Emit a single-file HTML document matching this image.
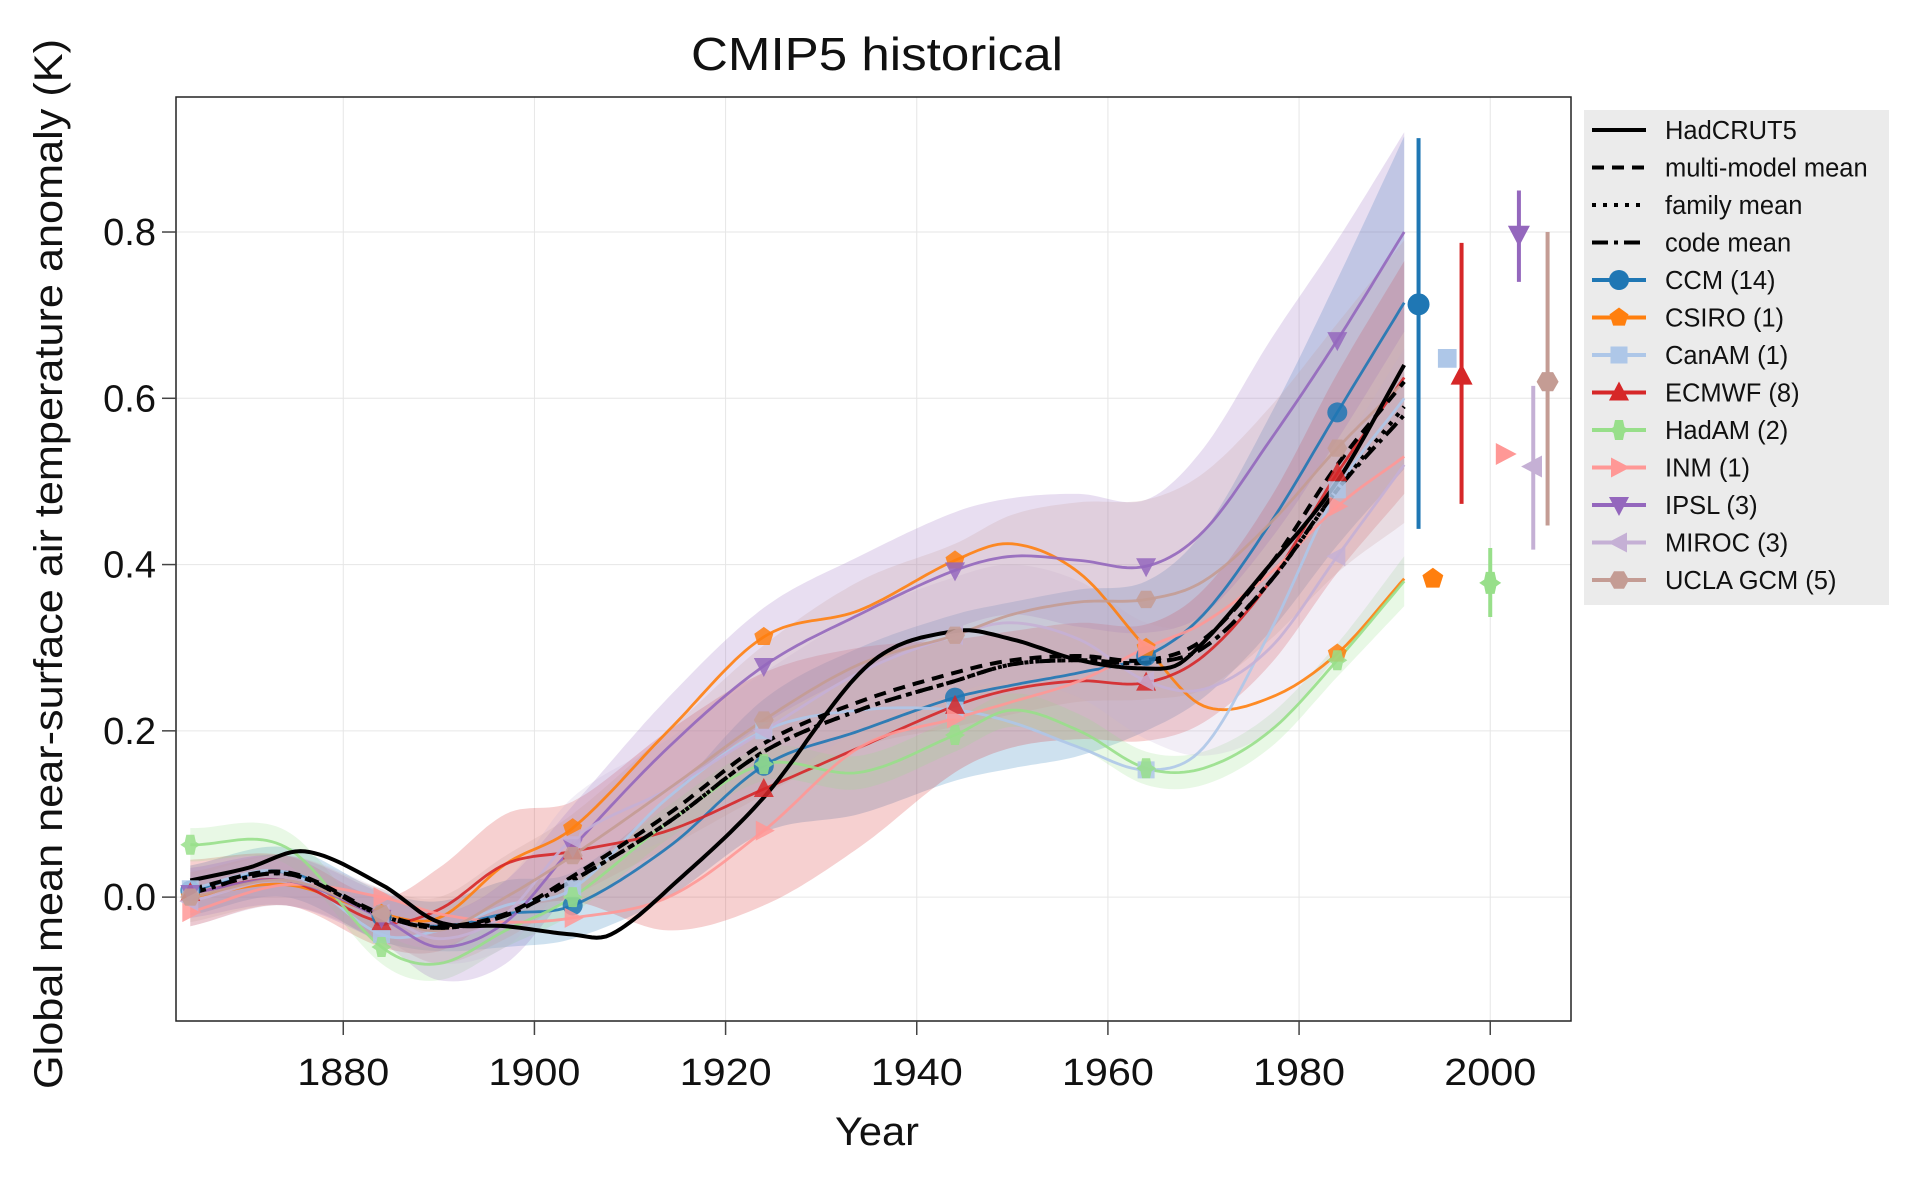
<!DOCTYPE html>
<html><head><meta charset="utf-8"><style>
html,body{margin:0;padding:0;background:#fff;}
svg{display:block;font-family:"Liberation Sans",sans-serif;}
</style></head><body>
<svg id="chart" width="1919" height="1181" viewBox="0 0 1919 1181" xmlns="http://www.w3.org/2000/svg">
<text x="877" y="70" font-size="46" text-anchor="middle" textLength="372" lengthAdjust="spacingAndGlyphs" fill="#111">CMIP5 historical</text>
<text transform="translate(62,564) rotate(-90)" font-size="40" text-anchor="middle" textLength="1050" lengthAdjust="spacingAndGlyphs" fill="#111">Global mean near-surface air temperature anomaly (K)</text>
<text x="877" y="1145" font-size="40" text-anchor="middle" textLength="84" lengthAdjust="spacingAndGlyphs" fill="#111">Year</text>
<g id="grid"></g>
<g id="bands"></g>
<g id="lines"></g>
<g id="marks"></g>
<g id="bars"></g>
<rect x="176" y="97" width="1395" height="924" fill="none" stroke="#222" stroke-width="1.5"/>
<g id="ticks"></g>
<g id="legend"></g>
</svg>
<script>
const xTicks=[1880,1900,1920,1940,1960,1980,2000];
const yTicks=[0.0,0.2,0.4,0.6,0.8];
const yTickLabels=["0.0","0.2","0.4","0.6","0.8"];
const years=[1864,1874,1884,1890,1897,1904,1914,1924,1934,1944,1950,1957,1964,1970,1977,1984,1991];
const hadcrutYears=[1864,1870,1876,1884,1890,1897,1904,1908,1915,1924,1935,1944,1950,1957,1964,1968,1977,1984,1991];
const hadcrut=[0.02,0.035,0.055,0.015,-0.03,-0.035,-0.045,-0.045,0.02,0.12,0.28,0.32,0.31,0.285,0.275,0.285,0.4,0.5,0.64];
const mmMean=[0.01,0.03,-0.02,-0.035,-0.02,0.025,0.1,0.185,0.235,0.27,0.285,0.29,0.285,0.31,0.4,0.52,0.62];
const famMean=[0.005,0.028,-0.022,-0.037,-0.022,0.02,0.09,0.175,0.225,0.26,0.28,0.285,0.282,0.3,0.38,0.49,0.59];
const codeMean=[0.005,0.028,-0.022,-0.037,-0.022,0.02,0.09,0.175,0.225,0.26,0.28,0.285,0.282,0.3,0.38,0.49,0.58];
const names=["CCM (14)","CSIRO (1)","CanAM (1)","ECMWF (8)","HadAM (2)","INM (1)","IPSL (3)","MIROC (3)","UCLA GCM (5)"];
const colors=["#1f77b4","#ff7f0e","#aec7e8","#d62728","#98df8a","#ff9896","#9467bd","#c5b0d5","#c49c94"];
const symbols=["circle","pentagon","square","triangle-up","cross","triangle-right","triangle-down","triangle-left","hexagon"];
const ccm=[0.008,0.03,-0.023,-0.035,-0.02,-0.01,0.06,0.158,0.2,0.24,0.255,0.27,0.29,0.34,0.45,0.583,0.715];
const csiro=[0.0,0.015,-0.02,-0.025,0.04,0.083,0.2,0.313,0.345,0.405,0.425,0.39,0.3,0.23,0.24,0.293,0.383];
const canam=[0.01,0.03,-0.045,-0.04,-0.01,0.01,0.12,0.2,0.225,0.225,0.21,0.18,0.153,0.18,0.32,0.49,0.6];
const ecmwf=[0.005,0.02,-0.03,-0.015,0.04,0.055,0.08,0.13,0.18,0.23,0.25,0.26,0.258,0.29,0.38,0.51,0.625];
const hadam=[0.063,0.06,-0.06,-0.08,-0.04,0.0,0.09,0.16,0.15,0.195,0.225,0.2,0.155,0.155,0.2,0.285,0.38];
const inm=[-0.018,0.015,0.0,-0.02,-0.03,-0.025,0.0,0.08,0.18,0.215,0.235,0.26,0.3,0.33,0.39,0.47,0.53];
const ipsl=[0.005,0.02,-0.025,-0.06,-0.03,0.06,0.18,0.278,0.34,0.393,0.41,0.405,0.398,0.44,0.55,0.67,0.8];
const miroc=[-0.005,0.02,-0.02,-0.05,-0.02,0.07,0.13,0.2,0.27,0.315,0.33,0.31,0.26,0.25,0.3,0.41,0.52];
const ucla=[0.0,0.02,-0.02,-0.04,0.0,0.05,0.13,0.213,0.28,0.315,0.34,0.355,0.358,0.38,0.45,0.54,0.62];
const seriesVals=[ccm,csiro,canam,ecmwf,hadam,inm,ipsl,miroc,ucla];
const spreadCcm=[0.03,0.03,0.03,0.03,0.04,0.04,0.06,0.08,0.1,0.1,0.1,0.1,0.09,0.1,0.13,0.16,0.2];
const spreadEcmwf=[0.04,0.03,0.03,0.05,0.06,0.06,0.12,0.14,0.12,0.08,0.07,0.07,0.07,0.08,0.1,0.12,0.14];
const spreadHadam=[0.02,0.02,0.02,0.02,0.02,0.02,0.02,0.02,0.02,0.02,0.02,0.02,0.02,0.02,0.02,0.02,0.03];
const spreadIpsl=[0.03,0.03,0.03,0.04,0.05,0.05,0.06,0.07,0.07,0.07,0.07,0.08,0.08,0.1,0.12,0.12,0.12];
const spreadMiroc=[0.03,0.03,0.03,0.03,0.04,0.05,0.06,0.07,0.07,0.07,0.07,0.07,0.07,0.08,0.1,0.12,0.14];
const spreadUcla=[0.03,0.03,0.03,0.04,0.05,0.05,0.07,0.09,0.1,0.11,0.12,0.12,0.12,0.13,0.14,0.15,0.17];
const spreads=[spreadCcm,null,null,spreadEcmwf,spreadHadam,null,spreadIpsl,spreadMiroc,spreadUcla];
const markerYears=[1864,1884,1904,1924,1944,1964,1984];
const endYears=[1992.5,1994,1995.5,1997,2000,2001.5,2003,2004.5,2006];
const endVals=[0.713,0.383,0.648,0.627,0.378,0.533,0.797,0.518,0.62];
const endLo=[0.443,null,null,0.473,0.337,null,0.74,0.418,0.447];
const endHi=[0.913,null,null,0.787,0.42,null,0.85,0.615,0.80];

const NS="http://www.w3.org/2000/svg";
const X0=176,X1=1571,Y0=97,Y1=1021,xMin=1862.5,xMax=2008.45,yMin=-0.149,yMax=0.9624;
function xs(v){return X0+(v-xMin)/(xMax-xMin)*(X1-X0);}
function ys(v){return Y1-(v-yMin)/(yMax-yMin)*(Y1-Y0);}
function mk(tag,attrs,parent){const e=document.createElementNS(NS,tag);for(const k in attrs)e.setAttribute(k,attrs[k]);parent.appendChild(e);return e;}
function interp(xa,ya,x){
  let i=0;while(i<xa.length-2&&x>xa[i+1])i++;
  const p0=ya[Math.max(i-1,0)],p1=ya[i],p2=ya[i+1],p3=ya[Math.min(i+2,ya.length-1)];
  const x0=xa[Math.max(i-1,0)],x1=xa[i],x2=xa[i+1],x3=xa[Math.min(i+2,xa.length-1)];
  const h=x2-x1,t=(x-x1)/h;
  const m1=(p2-p0)/(x2-x0)*h, m2=(p3-p1)/(x3-x1)*h;
  const t2=t*t,t3=t2*t;
  return (2*t3-3*t2+1)*p1+(t3-2*t2+t)*m1+(-2*t3+3*t2)*p2+(t3-t2)*m2;
}
function sample(xa,ya){const pts=[];for(let x=xa[0];x<=xa[xa.length-1]+1e-9;x+=0.5)pts.push([x,interp(xa,ya,x)]);return pts;}
function pathOf(pts){return pts.map((p,i)=>(i?"L":"M")+xs(p[0]).toFixed(1)+","+ys(p[1]).toFixed(1)).join("");}

const grid=document.getElementById('grid'),ticks=document.getElementById('ticks');
xTicks.forEach(t=>{
  const g=mk('line',{x1:xs(t),x2:xs(t),y1:Y0,y2:Y1,stroke:'#e6e6e6','stroke-width':1},grid);
  
  const tk=mk('line',{x1:xs(t),x2:xs(t),y1:Y1,y2:Y1+14,stroke:'#444','stroke-width':1.5},ticks);
  
  const tx=mk('text',{x:xs(t),y:Y1+64,'font-size':38,'text-anchor':'middle',fill:'#111',textLength:92,lengthAdjust:'spacingAndGlyphs'},ticks);tx.textContent=t;
  
});
yTicks.forEach((t,i)=>{
  const g=mk('line',{x1:X0,x2:X1,y1:ys(t),y2:ys(t),stroke:'#e6e6e6','stroke-width':1},grid);
  
  const tk=mk('line',{x1:X0-14,x2:X0,y1:ys(t),y2:ys(t),stroke:'#444','stroke-width':1.5},ticks);
  
  const tx=mk('text',{x:X0-20,y:ys(t)+13,'font-size':38,'text-anchor':'end',fill:'#111'},ticks);tx.textContent=yTickLabels[i];
  
});

function markerShape(sym,cx,cy,r,col,parent){
  let e;
  const poly=(pts)=>mk('polygon',{points:pts.map(p=>(cx+p[0]*r).toFixed(1)+","+(cy+p[1]*r).toFixed(1)).join(" "),fill:col},parent);
  const reg=(n,rot)=>{const a=[];for(let k=0;k<n;k++){const th=rot+k*2*Math.PI/n;a.push([Math.cos(th),Math.sin(th)]);}return a;};
  switch(sym){
    case 'circle':e=mk('circle',{cx:cx,cy:cy,r:r,fill:col},parent);break;
    case 'pentagon':e=poly(reg(5,-Math.PI/2));break;
    case 'square':e=poly([[-0.85,-0.85],[0.85,-0.85],[0.85,0.85],[-0.85,0.85]]);break;
    case 'triangle-up':e=poly([[0,-1.1],[1,0.8],[-1,0.8]]);break;
    case 'triangle-down':e=poly([[0,1.1],[1,-0.8],[-1,-0.8]]);break;
    case 'triangle-right':e=poly([[1.1,0],[-0.8,1],[-0.8,-1]]);break;
    case 'triangle-left':e=poly([[-1.1,0],[0.8,1],[0.8,-1]]);break;
    case 'hexagon':e=poly(reg(6,0));break;
    case 'cross':e=poly([[-0.4,-1],[0.4,-1],[0.55,-0.3],[1,0],[0.55,0.3],[0.4,1],[-0.4,1],[-0.55,0.3],[-1,0],[-0.55,-0.3]]);break;
  }
  return e;
}

const bands=document.getElementById('bands'),lines=document.getElementById('lines'),marks=document.getElementById('marks'),bars=document.getElementById('bars');
seriesVals.forEach((vals,i)=>{
  const sp=spreads[i];
  if(sp){
    const lo=vals.map((v,k)=>v-sp[k]),hi=vals.map((v,k)=>v+sp[k]);
    const pl=sample(years,lo),ph=sample(years,hi).reverse();
    const b=mk('path',{d:pathOf(pl)+pathOf(ph).replace('M','L')+'Z',fill:colors[i],'fill-opacity':0.22,stroke:'none'},bands);
    
    
  }
});
seriesVals.forEach((vals,i)=>{
  const l=mk('path',{d:pathOf(sample(years,vals)),fill:'none',stroke:colors[i],'stroke-width':2.8,'stroke-opacity':0.9},lines);
  
  
  markerYears.forEach(yr=>{
    const m=markerShape(symbols[i],xs(yr),ys(interp(years,vals,yr)),10,colors[i],marks);
    m.setAttribute('opacity',0.85);
    
    
  });
  if(endLo[i]!==null){
    const eb=mk('line',{x1:xs(endYears[i]),x2:xs(endYears[i]),y1:ys(endLo[i]),y2:ys(endHi[i]),stroke:colors[i],'stroke-width':4},bars);
    
    
  }
  const em=markerShape(symbols[i],xs(endYears[i]),ys(endVals[i]),11,colors[i],bars);
  
  
});
const blk=[[hadcrutYears,hadcrut,'',4,'hadcrut5-line'],[years,mmMean,'12,8',4,'multi-model-mean-line'],[years,famMean,'4,7',4,'family-mean-line'],[years,codeMean,'16,6,4,6',4,'code-mean-line']];
blk.forEach(b=>{
  const l=mk('path',{d:pathOf(sample(b[0],b[1])),fill:'none',stroke:'#000','stroke-width':b[3],'stroke-dasharray':b[2]},lines);
  
  
});

const leg=document.getElementById('legend');
const bg=mk('rect',{x:1584,y:110,width:305,height:495,fill:'#ebebeb'},leg);

const legBlack=[['HadCRUT5',''],['multi-model mean','12,8'],['family mean','4,7'],['code mean','16,6,4,6']];
legBlack.forEach((e,k)=>{
  const y=130+k*37.5;
  const ln=mk('line',{x1:1592,x2:1646,y1:y,y2:y,stroke:'#000','stroke-width':4,'stroke-dasharray':e[1]},leg);
  
  const t=mk('text',{x:1665,y:y+9,'font-size':25.5,fill:'#111'},leg);t.textContent=e[0];
  
});
names.forEach((n,i)=>{
  const y=130+(i+4)*37.5;
  const ln=mk('line',{x1:1592,x2:1646,y1:y,y2:y,stroke:colors[i],'stroke-width':4},leg);
  
  const m=markerShape(symbols[i],1619,y,10,colors[i],leg);
  
  const t=mk('text',{x:1665,y:y+9,'font-size':25.5,fill:'#111'},leg);t.textContent=n;
  
});
</script>
</body></html>
